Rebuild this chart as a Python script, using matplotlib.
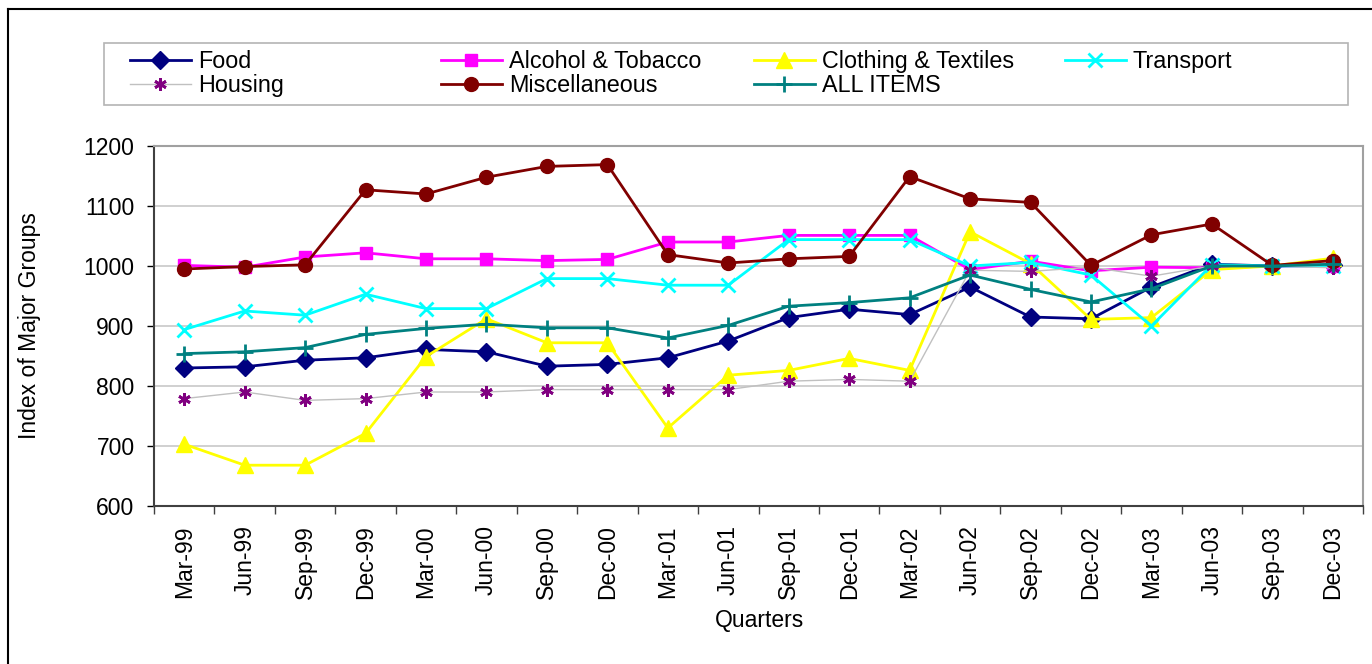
import matplotlib
matplotlib.use('Agg')
import matplotlib.pyplot as plt
from matplotlib.lines import Line2D
from matplotlib.patches import Rectangle
import numpy as np

plt.rcParams['font.family'] = ['Liberation Sans', 'DejaVu Sans']

# Donnees
quarters = ['Mar-99', 'Jun-99', 'Sep-99', 'Dec-99', 'Mar-00', 'Jun-00', 'Sep-00', 'Dec-00',
            'Mar-01', 'Jun-01', 'Sep-01', 'Dec-01', 'Mar-02', 'Jun-02', 'Sep-02', 'Dec-02',
            'Mar-03', 'Jun-03', 'Sep-03', 'Dec-03']
food = [830, 832, 843, 847, 861, 857, 833, 836, 847, 875, 914, 928, 919, 965, 915, 912, 965, 1003, 1000, 1002]
alcohol = [1001, 998, 1015, 1022, 1012, 1012, 1009, 1011, 1040, 1040, 1051, 1051, 1051, 994, 1008, 992, 998, 997, 1000, 1000]
clothing = [703, 668, 668, 721, 849, 912, 872, 872, 730, 818, 826, 846, 826, 1057, 1004, 911, 914, 994, 1000, 1013]
transport = [894, 925, 918, 953, 929, 929, 979, 979, 968, 968, 1044, 1044, 1044, 1000, 1006, 985, 900, 1002, 1000, 1000]
housing = [779, 790, 776, 779, 790, 790, 794, 794, 794, 794, 808, 811, 808, 993, 991, 998, 983, 1000, 1000, 997]
misc = [995, 999, 1002, 1127, 1120, 1148, 1166, 1169, 1019, 1005, 1012, 1016, 1149, 1112, 1106, 1001, 1052, 1070, 1001, 1009]
all_items = [854, 857, 864, 886, 896, 903, 897, 897, 880, 901, 933, 939, 947, 985, 961, 940, 962, 1000, 1000, 1003]

W, H = 1372, 664
fig = plt.figure(figsize=(W/100, H/100), dpi=100)
ax = fig.add_axes([154/W, 1 - 506/H, (1363-154)/W, (506-146)/H])

x = np.arange(len(quarters))
fs = 16.5
fs_leg = 16.8

# Series (ordre Excel : les dernieres au-dessus)
l_food, = ax.plot(x, food, color='#000080', lw=2, marker='D', ms=9, mec='#000080', mfc='#000080', label='Food')
l_alc, = ax.plot(x, alcohol, color='#FF00FF', lw=2, marker='s', ms=9, mec='#FF00FF', mfc='#FF00FF', label='Alcohol & Tobacco')
l_clo, = ax.plot(x, clothing, color='#FFFF00', lw=2, marker='^', ms=11, mec='#FFFF00', mfc='#FFFF00', label='Clothing & Textiles')
l_tra, = ax.plot(x, transport, color='#00FFFF', lw=2, marker='x', ms=10, mew=2, mec='#00FFFF', label='Transport')
l_hou, = ax.plot(x, housing, color='#C0C0C0', lw=1, marker=(6, 2, 0), ms=9, mew=2, mec='#800080', label='Housing')
l_mis, = ax.plot(x, misc, color='#800000', lw=2, marker='o', ms=10, mec='#800000', mfc='#800000', label='Miscellaneous')
l_all, = ax.plot(x, all_items, color='#008080', lw=2, marker='+', ms=12, mew=2, mec='#008080', label='ALL ITEMS')

# Axes
ax.set_xlim(-0.5, len(quarters) - 0.5)
ax.set_ylim(600, 1200)
ax.set_yticks(np.arange(600, 1201, 100))
ax.yaxis.grid(True, color='#C8C8C8', lw=1.2)
ax.set_axisbelow(True)
ax.tick_params(axis='y', length=5, width=1, labelsize=fs, pad=9, direction='out')

ax.set_xticks(x)
ax.set_xticklabels(quarters, rotation=90, fontsize=fs)
ax.tick_params(axis='x', which='major', length=0, pad=14)
ax.set_xticks(np.arange(-0.5, len(quarters)), minor=True)
ax.tick_params(axis='x', which='minor', length=6, width=1, direction='out', color='#404040')

for s in ['left', 'bottom']:
    ax.spines[s].set_color('#404040')
    ax.spines[s].set_linewidth(1.5)
for s in ['top', 'right']:
    ax.spines[s].set_color('#A0A0A0')
    ax.spines[s].set_linewidth(1.5)

fig.text(30/W, 1 - 326/H, 'Index of Major Groups', rotation=90, ha='center', va='center', fontsize=fs)
fig.text(759/W, 1 - 621/H, 'Quarters', ha='center', va='center', fontsize=fs)

# Cadre du graphique (bord gauche et haut visibles)
fig.add_artist(Line2D([8/W, 8/W], [0, 1 - 9/H], color='black', lw=1.5))
fig.add_artist(Line2D([8/W, 1], [1 - 9/H, 1 - 9/H], color='black', lw=1.5))

# Legende : cadre + 4 colonnes
fig.add_artist(Rectangle((104/W, 1 - 105/H), 1244/W, 62/H, fill=False, edgecolor='#B4B4B4', lw=1.2))
cols = [([l_food, l_hou], 130), ([l_alc, l_mis], 441), ([l_clo, l_all], 754), ([l_tra], 1065)]
for hands, xpos in cols:
    leg = fig.legend(handles=hands, loc='upper left', bbox_to_anchor=(xpos/W, 1 - 50/H),
                     frameon=False, fontsize=fs_leg, handlelength=2.6, handletextpad=0.3,
                     labelspacing=0.05, borderpad=0, borderaxespad=0)

plt.savefig('out.png', dpi=100)
